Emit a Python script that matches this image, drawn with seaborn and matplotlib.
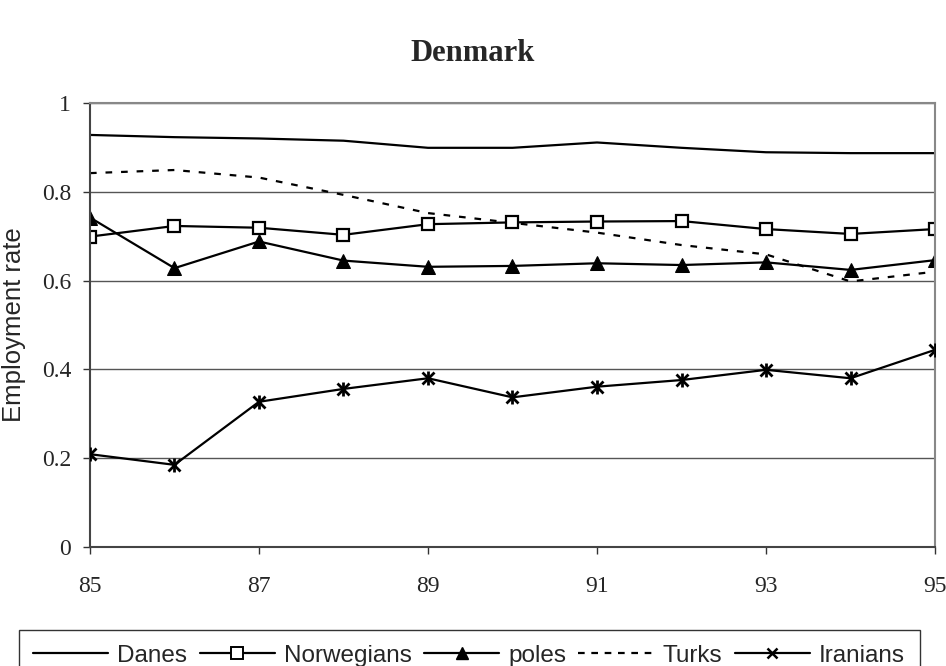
import matplotlib
matplotlib.use("Agg")
import matplotlib.pyplot as plt
from matplotlib.lines import Line2D
import seaborn as sns

years = [85, 86, 87, 88, 89, 90, 91, 92, 93, 94, 95]
danes = [0.928, 0.923, 0.920, 0.915, 0.899, 0.899, 0.911, 0.899, 0.889, 0.887, 0.887]
norwegians = [0.699, 0.723, 0.719, 0.703, 0.727, 0.731, 0.733, 0.734, 0.716, 0.705, 0.716]
poles = [0.742, 0.628, 0.688, 0.645, 0.631, 0.633, 0.639, 0.635, 0.641, 0.624, 0.646]
turks = [0.842, 0.849, 0.832, 0.793, 0.752, 0.730, 0.708, 0.680, 0.659, 0.598, 0.620]
iranians = [0.209, 0.185, 0.327, 0.356, 0.380, 0.337, 0.361, 0.376, 0.399, 0.380, 0.444]
x_ticks = [85, 87, 89, 91, 93, 95]
y_ticks = [0, 0.2, 0.4, 0.6, 0.8, 1]
y_tick_labels = ["0", "0.2", "0.4", "0.6", "0.8", "1"]
labels = ["Danes", "Norwegians", "poles", "Turks", "Iranians"]

sns.set_theme(style="white")
plt.rcParams['font.family'] = ['Liberation Serif', 'DejaVu Serif']

fig = plt.figure(figsize=(9.46, 6.66), dpi=100)
ax = fig.add_axes([0.0951, 0.1787, 0.8933, 0.6667])

for y in y_ticks[1:]:
    ax.axhline(y, color="#555555", lw=1.0, zorder=0)

sns.lineplot(x=years, y=danes, ax=ax, color="black", lw=1.6)
sns.lineplot(x=years, y=turks, ax=ax, color="black", lw=1.6, linestyle=(0, (3, 4)))
sns.lineplot(x=years, y=norwegians, ax=ax, color="black", lw=1.6, marker="s",
             markersize=9, markerfacecolor="white", markeredgecolor="black", markeredgewidth=1.6)
sns.lineplot(x=years, y=poles, ax=ax, color="black", lw=1.6, marker="^",
             markersize=10, markerfacecolor="black", markeredgecolor="black")
sns.lineplot(x=years, y=iranians, ax=ax, color="black", lw=1.6, marker="x",
             markersize=9, markeredgewidth=2, markeredgecolor="black")
sns.scatterplot(x=years, y=iranians, ax=ax, color="black", marker="|", s=90,
                linewidth=2, zorder=5)

ax.set_xlim(85, 95)
ax.set_ylim(0, 1)
ax.set_xticks(x_ticks)
ax.set_xticklabels([str(v) for v in x_ticks])
ax.set_yticks(y_ticks)
ax.set_yticklabels(y_tick_labels)
ax.tick_params(axis="both", direction="out", length=5, width=1, color="#333333",
               labelsize=17, bottom=True, left=True)
ax.tick_params(axis="x", pad=16)
ax.tick_params(axis="y", pad=8.5)
for side in ["top", "right"]:
    ax.spines[side].set_color("#888888")
    ax.spines[side].set_linewidth(1.5)
for side in ["left", "bottom"]:
    ax.spines[side].set_color("#444444")
    ax.spines[side].set_linewidth(1.5)
for lab in ax.get_xticklabels() + ax.get_yticklabels():
    lab.set_fontfamily("Liberation Serif")

ax.set_ylabel("")
ax.set_xlabel("")
fig.text(14 / 946, 0.512, "Employment rate", rotation=90, ha="center", va="center",
         fontsize=18.5, family=["Liberation Sans", "DejaVu Sans"])
fig.text(0.5, 0.92, "Denmark", ha="center", va="center", fontsize=22, fontweight="bold",
         family=["Liberation Serif", "DejaVu Serif"])

handles = [
    Line2D([], [], color="black", lw=1.6),
    Line2D([], [], color="black", lw=1.6, marker="s", markersize=8, markerfacecolor="white", markeredgewidth=1.4),
    Line2D([], [], color="black", lw=1.6, marker="^", markersize=9),
    Line2D([], [], color="black", lw=1.6, linestyle=(0, (3, 3))),
    Line2D([], [], color="black", lw=1.6, marker="x", markersize=7, markeredgewidth=1.8),
]
leg = fig.legend(handles, labels, loc="upper center", bbox_to_anchor=(0.4958, 1 - 630 / 666), ncol=5,
                 frameon=True, fancybox=False, edgecolor="black", handlelength=3.1,
                 handletextpad=0.37, columnspacing=0.5, borderpad=0.6, borderaxespad=0,
                 prop={"family": ["Liberation Sans", "DejaVu Sans"], "size": 17.5})
leg.get_frame().set_linewidth(1.0)

fig.savefig("out.png", dpi=100)
